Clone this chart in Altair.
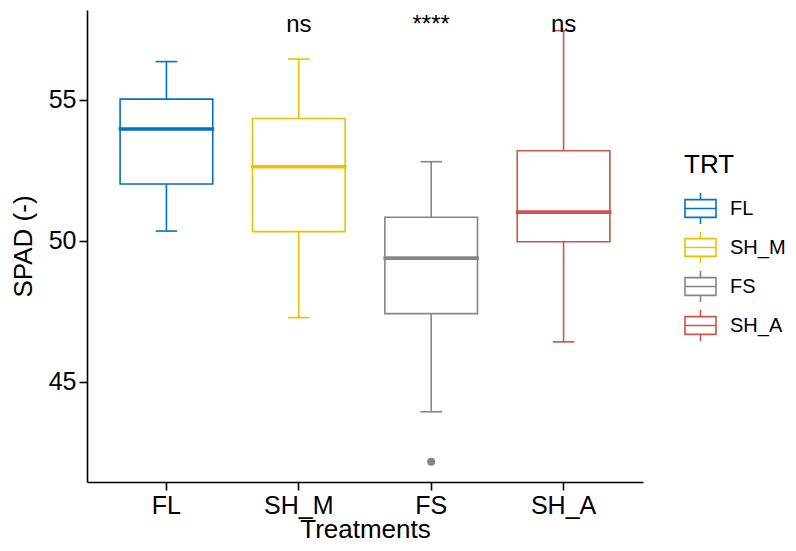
import altair as alt
import pandas as pd

trt = ["FL", "SH_M", "FS", "SH_A"]
colors = ["#0073C2", "#EFC000", "#868686", "#CD534C"]
lower = [50.34, 47.27, 43.93, 46.41]
q1 = [52.01, 50.32, 47.41, 49.96]
median = [53.96, 52.62, 49.38, 51.01]
q3 = [55.02, 54.33, 50.83, 53.19]
upper = [56.35, 56.44, 52.80, 57.45]

out_trt = ["FS"]
out_val = [42.16]

sig_trt = ["SH_M", "FS", "SH_A"]
sig_txt = ["ns", "****", "ns"]
sig_y = [57.40, 57.40, 57.40]

FONT = "Liberation Sans"

df = pd.DataFrame({"TRT": trt, "lower": lower, "q1": q1,
                   "median": median, "q3": q3, "upper": upper})
df_out = pd.DataFrame({"TRT": out_trt, "val": out_val})
df_sig = pd.DataFrame({"TRT": sig_trt, "txt": sig_txt, "y": sig_y})

xs = alt.Scale(domain=trt, paddingInner=0.3, paddingOuter=0.25)
ys = alt.Scale(domain=[41.44, 58.18], nice=False, zero=False)
cs = alt.Scale(domain=trt, range=colors)

X = alt.X("TRT:N", scale=xs, sort=trt, title="Treatments",
          axis=alt.Axis(labelAngle=0, titleBaseline="alphabetic", titleY=55))
Y_AX = alt.Axis(values=[45, 50, 55], title="SPAD (-)")

box_path = ("M-1,-0.57L1,-0.57L1,0.57L-1,0.57Z "
            "M-1,0L1,0 M0,-0.57L0,-1 M0,0.57L0,1")

LEG = alt.Legend(
    title="TRT", orient="none", legendX=597, legendY=142,
    symbolType=box_path, symbolSize=961,
    symbolStrokeWidth=1.6, symbolFillColor="white",
    labelFontSize=20, titleFontSize=26, labelLimit=200,
    titleFontWeight="normal", labelFont=FONT,
    titleFont=FONT, titlePadding=14, rowPadding=0,
    labelOffset=13, labelColor="black", titleColor="black")
col = alt.Color("TRT:N", scale=cs, sort=trt, legend=LEG)

base = alt.Chart(df)

box = base.mark_bar(filled=False, strokeWidth=1.6, opacity=1).encode(
    x=X, y=alt.Y("q1:Q", scale=ys, axis=Y_AX), y2="q3:Q", color=col)
w_low = base.mark_rule(strokeWidth=1.6).encode(
    x=X, y=alt.Y("lower:Q", scale=ys, axis=Y_AX), y2="q1:Q", color=col)
w_up = base.mark_rule(strokeWidth=1.6).encode(
    x=X, y=alt.Y("q3:Q", scale=ys, axis=Y_AX), y2="upper:Q", color=col)
cap_low = base.mark_tick(size=20, thickness=0.01, filled=False,
                         strokeWidth=1.6, opacity=1).encode(
    x=X, y=alt.Y("lower:Q", scale=ys, axis=Y_AX), color=col)
cap_up = base.mark_tick(size=20, thickness=0.01, filled=False,
                        strokeWidth=1.6, opacity=1).encode(
    x=X, y=alt.Y("upper:Q", scale=ys, axis=Y_AX), color=col)
med = base.mark_tick(size=92, thickness=0.01, filled=False,
                     strokeWidth=3.6, opacity=1).encode(
    x=X, y=alt.Y("median:Q", scale=ys, axis=Y_AX), color=col)

outl = alt.Chart(df_out).mark_rule(strokeWidth=8, strokeCap="round",
                                   opacity=1).encode(
    x=X, y=alt.Y("val:Q", scale=ys, axis=Y_AX), y2="val:Q", color=col)

sig = alt.Chart(df_sig).mark_text(fontSize=24, font=FONT, baseline="alphabetic",
                                   color="black").encode(
    x=X, y=alt.Y("y:Q", scale=ys, axis=Y_AX), text="txt:N")

chart = alt.layer(box, w_low, w_up, cap_low, cap_up, med, outl, sig).properties(
    width=556, height=472,
    autosize=alt.AutoSizeParams(type="none"),
    padding={"left": 79, "top": 2, "right": 145, "bottom": 60},
).configure_view(stroke=None).configure_axis(
    grid=False, domainColor="black", domainWidth=1.6, tickColor="black",
    tickWidth=1.6, tickSize=8, labelFont=FONT, titleFont=FONT,
    labelFontSize=25, titleFontSize=26, labelColor="black", titleColor="black",
    titleFontWeight="normal", labelPadding=3,
).configure_axisY(titlePadding=12)

chart.save("out.html", embed_options={"renderer": "svg", "actions": False})
